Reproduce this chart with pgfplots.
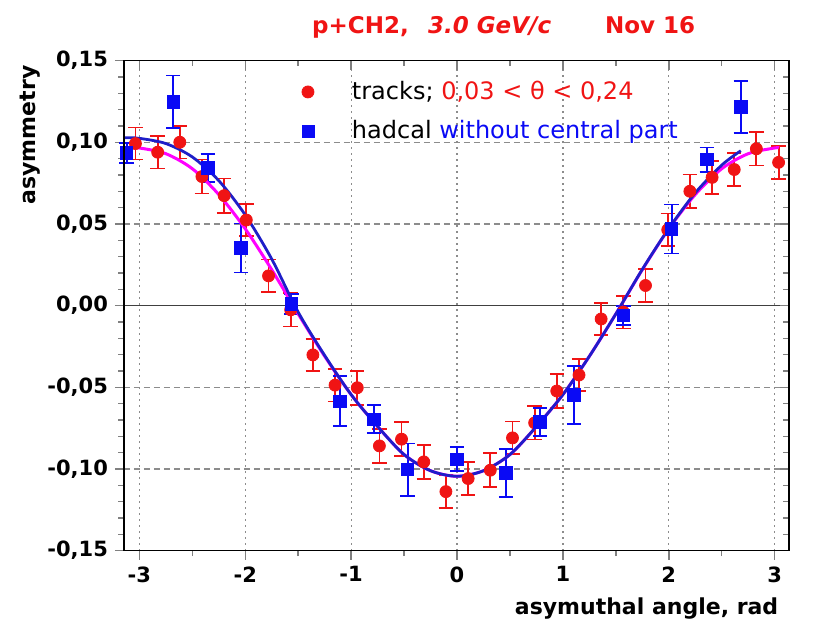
\documentclass[border=0pt]{standalone}
\usepackage{pgfplots}
\pgfplotsset{compat=1.18}
\usepackage{pgfplotstable}
\usepackage{fontspec}
\setmainfont{DejaVu Sans}

\definecolor{ptred}{RGB}{240,20,20}
\definecolor{ptblue}{RGB}{10,10,245}
\definecolor{fitblue}{RGB}{30,30,200}
\definecolor{fitmag}{RGB}{255,0,255}
\definecolor{gridgray}{RGB}{140,140,140}

% error bars: stem plus a plain horizontal cap at the outer end
\pgfplotsset{
  error bars/draw error bar/.code 2 args={%
    \draw[/pgfplots/error bars/error bar style] #1 -- #2;
    \path #2 coordinate (ebtip);
    \draw[/pgfplots/error bars/error bar style]
      ([xshift=-3.6pt]ebtip) -- ([xshift=3.6pt]ebtip);
  },
}

% tracks: asymmetry vs azimuthal angle, 0.03 < theta < 0.24
\pgfplotstableread{
x y e
-3.037 0.0992 0.0098
-2.827 0.0939 0.0100
-2.618 0.1000 0.0100
-2.409 0.0790 0.0104
-2.199 0.0673 0.0105
-1.990 0.0524 0.0100
-1.780 0.0182 0.0100
-1.571 -0.0026 0.0102
-1.361 -0.0302 0.0097
-1.152 -0.0487 0.0100
-0.942 -0.0503 0.0104
-0.733 -0.0859 0.0103
-0.524 -0.0818 0.0103
-0.314 -0.0957 0.0104
-0.105 -0.1139 0.0101
0.105 -0.1059 0.0099
0.314 -0.1008 0.0104
0.524 -0.0810 0.0100
0.733 -0.0718 0.0102
0.942 -0.0523 0.0105
1.152 -0.0425 0.0100
1.361 -0.0082 0.0099
1.571 -0.0040 0.0100
1.780 0.0123 0.0103
1.990 0.0464 0.0100
2.199 0.0700 0.0103
2.409 0.0785 0.0100
2.618 0.0833 0.0100
2.827 0.0960 0.0102
3.037 0.0877 0.0102
}\tracks

% hadron calorimeter without its central part
\pgfplotstableread{
x y e
-3.120 0.0935 0.0060
-2.680 0.1248 0.0161
-2.354 0.0843 0.0084
-2.040 0.0352 0.0150
-1.565 0.0010 0.0060
-1.105 -0.0585 0.0154
-0.784 -0.0695 0.0086
-0.466 -0.1004 0.0160
0.000 -0.0940 0.0072
0.463 -0.1024 0.0148
0.784 -0.0712 0.0087
1.105 -0.0548 0.0176
1.571 -0.0061 0.0060
2.027 0.0469 0.0150
2.358 0.0894 0.0074
2.679 0.1217 0.0158
}\hadcal

% fitted curve, tracks
\pgfplotstableread{
x y
-3.10 0.0968
-3.00 0.0965
-2.75 0.0930
-2.50 0.0838
-2.25 0.0680
-2.00 0.0470
-1.75 0.0220
-1.50 -0.0051
-1.25 -0.0310
-1.00 -0.0545
-0.75 -0.0740
-0.50 -0.0912
-0.25 -0.1011
0.00 -0.1045
0.25 -0.1011
0.50 -0.0912
0.75 -0.0740
1.00 -0.0545
1.25 -0.0310
1.50 -0.0051
1.75 0.0220
2.00 0.0470
2.25 0.0680
2.50 0.0838
2.75 0.0930
3.00 0.0965
3.04 0.0966
}\fittracks

% fitted curve, hadcal
\pgfplotstableread{
x y
-3.14 0.1028
-3.00 0.1024
-2.75 0.0992
-2.50 0.0910
-2.25 0.0765
-2.00 0.0555
-1.75 0.0285
-1.50 -0.0040
-1.25 -0.0305
-1.00 -0.0545
-0.75 -0.0740
-0.50 -0.0912
-0.25 -0.1011
0.00 -0.1045
0.25 -0.1011
0.50 -0.0912
0.75 -0.0740
1.00 -0.0545
1.25 -0.0310
1.50 -0.0051
1.75 0.0222
2.00 0.0472
2.25 0.0690
2.50 0.0860
2.68 0.0948
}\fithadcal

\begin{document}
\begin{tikzpicture}
\useasboundingbox (-62pt,-39.7pt) rectangle (348.5pt,275.3pt);
\pgfplotsset{
  frame/.style={
    at={(0,0)}, anchor=south west,
    width=332.5pt, height=245pt, scale only axis,
    xmin=-3.145, xmax=3.135, ymin=-0.15, ymax=0.15,
    xtick={-3,-2,-1,0,1,2,3},
    ytick={-0.15,-0.10,-0.05,0,0.05,0.10,0.15},
    minor xtick={-2.5,-1.5,-0.5,0.5,1.5,2.5},
    minor y tick num=4,
    major tick length=4.5pt, minor tick length=2.8pt,
    axis line style={line width=0.8pt},
    major tick style={line width=0.7pt},
    minor tick style={line width=0.7pt},
  }
}
\begin{axis}[
  frame,
  clip=false,
  xtick pos=bottom, ytick pos=left, tick align=outside,
  xmajorgrids, ymajorgrids,
  x grid style={gridgray, line width=0.6pt, dash pattern=on 1pt off 2pt},
  y grid style={gridgray, line width=0.6pt, dash pattern=on 3pt off 2pt},
  /pgf/number format/assume math mode=true,
  yticklabel style={/pgf/number format/.cd, fixed, fixed zerofill, precision=2, use comma},
  xticklabel style={/pgf/number format/.cd, fixed, precision=0},
  ticklabel style={font=\bfseries\fontsize{10.5}{12}\selectfont},
  legend style={at={(0.258,0.975)}, anchor=north west, draw=none, fill=none,
    font=\fontsize{12}{14}\selectfont, row sep=5pt, column sep=17pt},
  legend cell align=left,
]
\addlegendimage{only marks, mark=*, mark size=3pt, color=ptred}
\addlegendentry{tracks; \textcolor{ptred}{0,03 < θ < 0,24}}
\addlegendimage{only marks, mark=square*, mark size=3pt, color=ptblue}
\addlegendentry{hadcal \textcolor{ptblue}{without central part}}

% zero line
\addplot[forget plot, black!75, line width=0.8pt] coordinates {(-3.145,0) (3.135,0)};

% tracks with their errors
\addplot[forget plot, only marks, mark=*, mark size=3pt, color=ptred,
  error bars/.cd, y dir=both, y explicit,
  error bar style={draw=ptred, line width=0.9pt}]
  table[x=x, y=y, y error=e] {\tracks};

% hadcal with its errors
\addplot[forget plot, only marks, mark=square*, mark size=3.1pt, color=ptblue,
  error bars/.cd, y dir=both, y explicit,
  error bar style={draw=ptblue, line width=0.9pt}]
  table[x=x, y=y, y error=e] {\hadcal};

\addplot[forget plot, fitmag, line width=1.5pt, smooth] table[x=x, y=y] {\fittracks};
\addplot[forget plot, fitblue, line width=1.4pt, smooth] table[x=x, y=y] {\fithadcal};

% title
\node[anchor=base west, text=ptred, font=\bfseries\fontsize{11.5}{13}\selectfont]
  at (axis cs:-1.435,0.1664) {p+CH2,};
\node[anchor=base west, text=ptred, font=\bfseries\itshape\fontsize{11.5}{13}\selectfont]
  at (axis cs:-0.340,0.1664) {3.0 GeV/c};
\node[anchor=base west, text=ptred, font=\bfseries\fontsize{11.5}{13}\selectfont]
  at (axis cs:1.331,0.1664) {Nov 16};

% axis titles
\node[rotate=90, font=\bfseries\fontsize{11}{13}\selectfont]
  at (axis cs:-4.03,0.1045) {asymmetry};
\node[anchor=east, font=\bfseries\fontsize{11}{13}\selectfont]
  at (axis cs:3.10,-0.1852) {asymuthal angle, rad};
\end{axis}

% mirrored ticks on the top and right edges
\begin{axis}[
  frame,
  xtick pos=top, ytick pos=right, tick align=inside,
  xticklabels={}, yticklabels={},
]
\end{axis}
\end{tikzpicture}
\end{document}
